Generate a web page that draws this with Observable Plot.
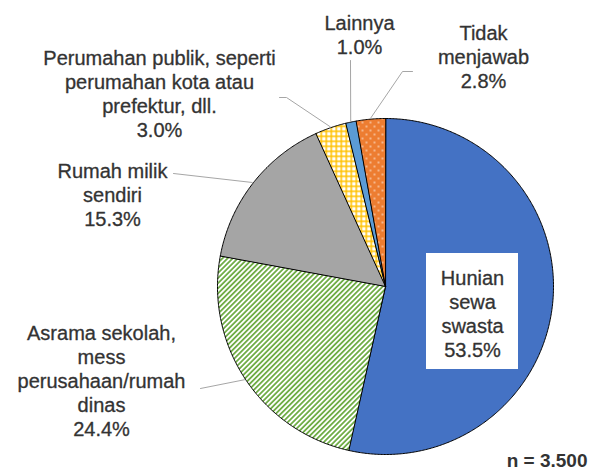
<!DOCTYPE html>
<html><head><meta charset="utf-8">
<script src="https://cdn.jsdelivr.net/npm/d3@7"></script>
<script src="https://cdn.jsdelivr.net/npm/@observablehq/plot@0.6"></script>
<style>body{margin:0;background:#fff} #chart svg{display:block}</style>
</head><body>
<svg width="0" height="0" style="position:absolute">
  <defs>
    <pattern id="pGreen" patternUnits="userSpaceOnUse" width="3.6" height="3.6" patternTransform="rotate(45)">
      <rect x="0" y="0" width="3.6" height="3.6" fill="#fff"/>
      <rect x="0" y="0" width="1.8" height="3.6" fill="#70AD47"/>
    </pattern>
    <pattern id="pYellow" patternUnits="userSpaceOnUse" width="5" height="5">
      <rect x="0" y="0" width="5" height="5" fill="#fff"/>
      <rect x="0" y="0" width="1.5" height="5" fill="#FFC000"/>
      <rect x="0" y="0" width="5" height="1.5" fill="#FFC000"/>
    </pattern>
    <pattern id="pOrange" patternUnits="userSpaceOnUse" width="8" height="8">
      <rect x="0" y="0" width="8" height="8" fill="#ED7D31"/>
      <circle cx="2" cy="2" r="0.8" fill="#fff"/>
      <circle cx="6" cy="6" r="0.8" fill="#fff"/>
    </pattern>
  </defs>
</svg>
<div id="chart"></div>
<script>
// ---- data ----
const categories = [
  "Hunian sewa swasta",
  "Asrama sekolah, mess perusahaan/rumah dinas",
  "Rumah milik sendiri",
  "Perumahan publik, seperti perumahan kota atau prefektur, dll.",
  "Lainnya",
  "Tidak menjawab"
];
const values = [53.5, 24.4, 15.3, 3.0, 1.0, 2.8];
const labelLines = [
  "Hunian\nsewa\nswasta",
  "Asrama sekolah,\nmess\nperusahaan/rumah\ndinas",
  "Rumah milik\nsendiri",
  "Perumahan publik, seperti\nperumahan kota atau\nprefektur, dll.",
  "Lainnya",
  "Tidak\nmenjawab"
];
const sampleNote = "n = 3.500";

// ---- styles / layout ----
const sliceFills = ["#4472C4", "url(#pGreen)", "#A5A5A5", "url(#pYellow)", "#5B9BD5", "url(#pOrange)"];
const W = 590, H = 470, cx = 385, cy = 286, R = 168;
const labelPos = [[472, 312.5], [101, 379.5], [112, 194], [159, 93], [359, 34], [483, 56]];
const leaderFrom = [null, [[200, 388]], [[173, 173]], [[279, 97], [286, 97]], [[350, 60]], [[412, 71], [402, 71]]];
const boxRect = {x1: 426, x2: 518, y1: 253, y2: 369};
const font = "'Liberation Sans', Arial, sans-serif";
const textColor = "#333333";
const fs = 20;

const rows = categories.map((c, i) => ({category: c, value: values[i], label: labelLines[i] + "\n" + values[i].toFixed(1) + "%"}));
const arcs = d3.pie().sort(null).value(d => d.value).startAngle(0).endAngle(2 * Math.PI)(rows);
const pt = (a, r) => ({x: cx + r * Math.sin(a), y: cy - r * Math.cos(a)});

const marks = [];
arcs.forEach((a, i) => {
  const n = Math.max(2, Math.ceil((a.endAngle - a.startAngle) / (Math.PI / 360)));
  const poly = [{x: cx, y: cy}];
  for (let k = 0; k <= n; k++) poly.push(pt(a.startAngle + (a.endAngle - a.startAngle) * k / n, R));
  marks.push(Plot.line(poly, {x: "x", y: "y", curve: "linear-closed", fill: sliceFills[i], stroke: "#000", strokeWidth: 1, strokeLinejoin: "miter"}));
});
arcs.forEach((a, i) => {
  if (!leaderFrom[i]) return;
  const mid = (a.startAngle + a.endAngle) / 2;
  const pts = leaderFrom[i].map(([x, y]) => ({x, y})).concat([pt(mid, R + 1)]);
  marks.push(Plot.line(pts, {x: "x", y: "y", stroke: "#A6A6A6", strokeWidth: 1}));
});
marks.push(Plot.rect([boxRect], {x1: "x1", x2: "x2", y1: "y1", y2: "y2", fill: "#fff"}));
arcs.forEach((a, i) => {
  marks.push(Plot.text([a.data], {
    x: () => labelPos[i][0], y: () => labelPos[i][1], text: "label",
    fontSize: fs, lineHeight: 24 / fs, fill: textColor, stroke: textColor, strokeWidth: 0.3,
    fontFamily: font, textAnchor: "middle", lineAnchor: "middle"
  }));
});
marks.push(Plot.text([sampleNote], {x: () => 587, y: () => 460, text: d => d, textAnchor: "end",
  fontSize: 19, fontWeight: "bold", fill: textColor, fontFamily: font}));

const chart = Plot.plot({
  width: W, height: H, margin: 0,
  x: {domain: [0, W], range: [0, W], axis: null},
  y: {domain: [0, H], range: [0, H], axis: null},
  style: {background: "#fff", overflow: "visible"},
  marks
});
document.getElementById("chart").appendChild(chart);
</script>
</body></html>
